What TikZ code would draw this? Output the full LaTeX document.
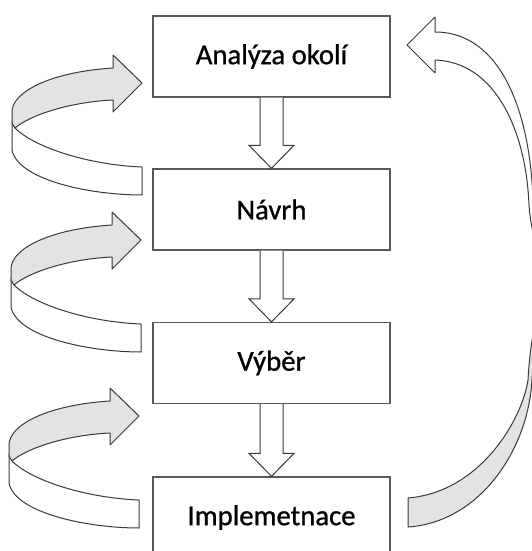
\documentclass[tikz,border=0pt]{standalone}
\usepackage{fontspec}
\setmainfont{Carlito}
\newfontfamily\stagefont[FakeBold=0.9]{Carlito}
\usetikzlibrary{calc}

\definecolor{boxline}{HTML}{595959}
\definecolor{arrowline}{HTML}{3A3A3A}
\definecolor{ribbon}{HTML}{E3E3E3}

\tikzset{
  stage/.style={draw=boxline, line width=1.3pt, fill=white,
    minimum width=237pt, minimum height=81pt, inner sep=0pt,
    font=\stagefont\fontsize{28.7}{34}\selectfont},
  blockarrow/.style={draw=arrowline, line width=1pt, fill=white, line join=miter},
  ribbonfront/.style={draw=arrowline, line width=1pt, fill=ribbon, line join=round},
  ribbonback/.style={draw=arrowline, line width=1pt, fill=white, line join=round},
  % curved feedback ribbon whose arrow tip sits at the pic origin
  loopback/.pic={
    \path[ribbonback] (-130,38) -- (-130,67)
      .. controls (-124,97) and (-52,112) .. (0,112) -- (0,84)
      .. controls (-52,82) and (-107,65) .. (-127,45) -- cycle;
    \path[ribbonfront] (-29,-15) .. controls (-92,-11) and (-130,9) .. (-130,29)
      -- (-130,40) -- (-127,45)
      .. controls (-112,32) and (-72,19) .. (-29,17)
      -- (-29,29) -- (0,0) -- (-29,-28) -- cycle;
  }
}

\newcommand{\stepdown}[2]{%
  \draw[blockarrow] ($(#1.south)+(-11.5,0)$) -- ($(#2.north)+(-11.5,-23)$)
    -- ($(#2.north)+(-22.5,-23)$) -- (#2.north) -- ($(#2.north)+(22.5,-23)$)
    -- ($(#2.north)+(11.5,-23)$) -- ($(#1.south)+(11.5,0)$);}

\begin{document}
\begin{tikzpicture}[x=1pt,y=-1pt]
\useasboundingbox (0,0) rectangle (532,551);
\clip (0,0) rectangle (532,551);
\fill[white] (0,0) rectangle (532,551);

% process stages
\node[stage] (analyza) at (271.5,56.5) {Analýza okolí};
\node[stage] (navrh)   at (271.5,209.5) {Návrh};
\node[stage] (vyber)   at (271.5,363) {Výběr};
\node[stage] (impl)    at (271.5,517.5) {Implemetnace};

% arrows between consecutive stages
\stepdown{analyza}{navrh}
\stepdown{navrh}{vyber}
\stepdown{vyber}{impl}

% iteration loops on the left
\pic at (142,83) {loopback};
\pic at (141,240) {loopback};
\pic at (139,416) {loopback};

% long return from implementation back to analysis (passes beyond the right edge)
\path[ribbonfront] (552,285) .. controls (540,310) and (534,340) .. (532,380)
  .. controls (528,450) and (480,522) .. (408,527)
  -- (408,498) .. controls (480,492) and (522,420) .. (528,380)
  .. controls (530,340) and (538,305) .. (548,280) -- cycle;
\path[ribbonback] (435,32) .. controls (500,32) and (530,110) .. (533,200)
  .. controls (535,230) and (545,250) .. (552,270)
  -- (548,275) .. controls (540,255) and (531,235) .. (529,205)
  .. controls (526,130) and (495,62) .. (435,60)
  -- (435,73) -- (407,45) -- (435,17) -- cycle;
\end{tikzpicture}
\end{document}
